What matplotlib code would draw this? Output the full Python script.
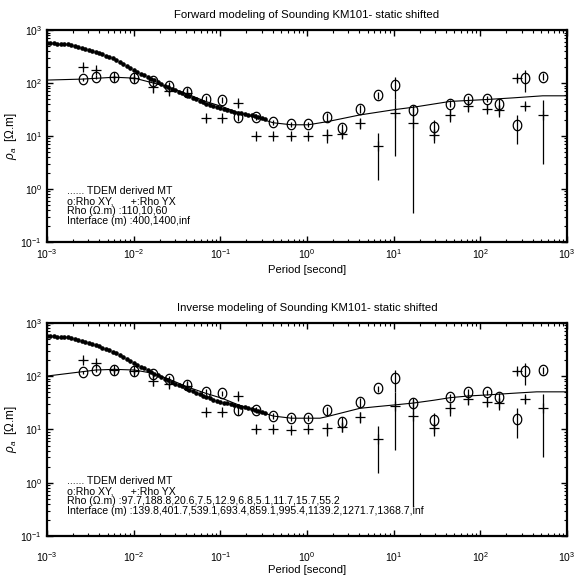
import numpy as np
import matplotlib
matplotlib.use('Agg')
import matplotlib.pyplot as plt
from matplotlib.path import Path

plt.rcParams['font.family'] = ['Liberation Sans', 'DejaVu Sans']
plt.rcParams['mathtext.fontset'] = 'custom'
plt.rcParams['mathtext.rm'] = 'Liberation Sans'
plt.rcParams['mathtext.it'] = 'Liberation Sans:italic'

#%% Daten

# TDEM derived MT (dotted)
T_tdem = [0.001, 0.001096, 0.001202, 0.001318, 0.001445, 0.001585, 0.001738, 0.001905,
          0.002089, 0.002291, 0.002512, 0.002754, 0.00302, 0.003311, 0.003631, 0.003981,
          0.004365, 0.004786, 0.005248, 0.005754, 0.00631, 0.006918, 0.007586, 0.008318,
          0.00912, 0.01, 0.01096, 0.01202, 0.01318, 0.01445, 0.01585, 0.01738, 0.01905,
          0.02089, 0.02291, 0.02512, 0.02754, 0.0302, 0.03311, 0.03631, 0.03981, 0.04365,
          0.04786, 0.05248, 0.05754, 0.0631, 0.06918, 0.07586, 0.08318, 0.0912, 0.1,
          0.1096, 0.1202, 0.1318, 0.1445, 0.1585, 0.1738, 0.1905, 0.2089, 0.2291, 0.2512,
          0.2754, 0.302, 0.3311]
rho_tdem = [575, 569, 562, 556, 550, 543, 537, 519, 501, 484, 462, 442, 422, 407, 389, 367,
            347, 327, 309, 292, 272, 251, 232, 211, 193, 176, 162, 151, 141, 130, 122, 112,
            105, 98, 90, 84, 79, 73, 69, 65, 60, 56, 52.5, 49, 45.7, 43.2, 40.7, 38.5, 36.3,
            34.7, 33.1, 32.0, 30.9, 29.5, 28.5, 27.5, 26.9, 26.0, 25.4, 24.5, 23.7, 22.6,
            21.6, 20.7]

# Messdaten
T_data = [0.00257, 0.00363, 0.0060, 0.0102, 0.0166, 0.0257, 0.0417, 0.0676, 0.105, 0.162,
          0.257, 0.407, 0.66, 1.035, 1.69, 2.55, 4.07, 6.53, 10.35, 16.9, 29.2, 44.7, 72.4,
          120, 164, 263, 324, 525]
rho_xy = [119, 132, 129, 126, 109, 88, 69, 51, 48, 23, 23, 18, 16.6, 16.6, 23, 14, 33, 59,
          91, 31, 15, 41, 50, 50, 41, 16, 124, 132]
err_xy = [8, 10, 8, 10, 10, 15, 12, 6, 6, 4, 3, 2, 2, 2, 4, 3, 6, 8, 40, 8, 5, 6, 8, 6, 8,
          9, 55, 20]
rho_yx = [204, 176, 129, 126, 83, 72, 65, 21.5, 21.5, 42, 10, 10, 9.8, 10, 10.5, 11, 17.4,
          6.5, 27.5, 17.8, 10.5, 25, 37, 33, 31, 124, 37, 25]
err_yx = [20, 20, 15, 15, 18, 12, 5, 2, 2, 6, 1, 1, 1, 1, 3, 2, 4, 5, 23.3, 17.45, 3, 7, 8,
          5, 8, 15, 5, 22]

# Modellkurven
T_fwd = [0.001, 0.00257, 0.0060, 0.0102, 0.0166, 0.0257, 0.0417, 0.0676, 0.105, 0.162,
         0.257, 0.407, 0.66, 1.035, 1.69, 4.07, 10.35, 16.9, 44.7, 120, 240, 525, 1000]
rho_fwd = [114, 119, 129, 124, 101, 83, 62, 45, 36, 27.5, 22.5, 17.8, 16.3, 16.3, 18.6, 25,
           31.6, 35, 45, 49, 52.6, 57.5, 57.5]

T_inv = [0.001, 0.00257, 0.00363, 0.0060, 0.0102, 0.0166, 0.0257, 0.0417, 0.0676, 0.105,
         0.162, 0.257, 0.407, 0.66, 1.035, 1.41, 1.69, 4.07, 6.53, 10.35, 16.9, 29.2, 44.7,
         72.4, 120, 240, 447, 1000]
rho_inv = [101, 122, 131, 135, 131, 114, 88, 63, 48, 38.5, 29, 23, 17.9, 16.3, 16.3, 16.3,
           17.4, 25, 27, 29, 31.4, 35.5, 39.6, 42.6, 44.6, 48, 51, 51]

xticks = [1e-3, 1e-2, 1e-1, 1e0, 1e1, 1e2, 1e3]
yticks = [1e-1, 1e0, 1e1, 1e2, 1e3]

titles = ['Forward modeling of Sounding KM101- static shifted',
          'Inverse modeling of Sounding KM101- static shifted']
texte = [['...... TDEM derived MT', 'o:Rho XY,      +:Rho YX',
          'Rho (\u03a9.m) :110,10,60', 'Interface (m) :400,1400,inf'],
         ['...... TDEM derived MT', 'o:Rho XY,      +:Rho YX',
          'Rho (\u03a9.m) :97.7,188.8,20.6,7.5,12.9,6.8,5.1,11.7,15.7,55.2',
          'Interface (m) :139.8,401.7,539.1,693.4,859.1,995.4,1139.2,1271.7,1368.7,inf']]
text_y = [0.24, 0.258]
xpad = [4, 10]
xlpad = [3, 1]

#%% Plot

# ovaler Marker fuer Rho XY
th = np.linspace(0, 2 * np.pi, 60)
oval = Path(np.column_stack([0.82 * np.cos(th), np.sin(th)]))

fig = plt.figure(figsize=(5.76, 5.80), dpi=100)
ax1 = fig.add_axes([0.0816, 0.583, 0.9028, 0.365])
ax2 = fig.add_axes([0.0816, 0.076, 0.9028, 0.367])

for i, ax in enumerate([ax1, ax2]):
    if i == 0:
        ax.plot(T_fwd, rho_fwd, color='black', lw=0.8)
    else:
        ax.plot(T_inv, rho_inv, color='black', lw=0.8)
    ax.errorbar(T_data, rho_xy, yerr=err_xy, fmt='none', ecolor='black', elinewidth=0.9)
    ax.errorbar(T_data, rho_yx, yerr=err_yx, fmt='none', ecolor='black', elinewidth=0.9)
    ax.plot(T_data, rho_xy, linestyle='none', marker=oval, markersize=7.5,
            markerfacecolor='none', markeredgecolor='black', markeredgewidth=0.9)
    ax.plot(T_data, rho_yx, linestyle='none', marker='+', markersize=7,
            markeredgecolor='black', markeredgewidth=0.9)
    ax.plot(T_tdem, rho_tdem, linestyle='none', marker='o', markersize=2.3,
            color='black')

    ax.set_xscale('log')
    ax.set_yscale('log')
    ax.set_xticks(xticks)
    ax.set_yticks(yticks)
    ax.set_xlim(1e-3, 1e3)
    ax.set_ylim(1e-1, 1e3)
    ax.set_title(titles[i], fontsize=8.2, pad=9)
    ax.set_xlabel('Period [second]', fontsize=8.1, labelpad=xlpad[i])
    ax.set_ylabel(r'$\rho_a$  [$\Omega$.m]', fontsize=8.5, labelpad=1)
    ax.tick_params(which='both', direction='in', top=True, right=True, labelsize=7.5)
    ax.tick_params(axis='x', which='major', pad=xpad[i])
    ax.tick_params(axis='y', which='major', pad=3.5)
    ax.tick_params(which='major', length=4.5, width=1)
    ax.tick_params(which='minor', length=2.2, width=0.8)
    for s in ax.spines.values():
        s.set_linewidth(1.6)

    for j, t in enumerate(texte[i]):
        ax.text(0.038, text_y[i] - j * 0.047, t, transform=ax.transAxes,
                fontsize=7.6, va='center', ha='left')

fig.savefig('out.png', dpi=100)
